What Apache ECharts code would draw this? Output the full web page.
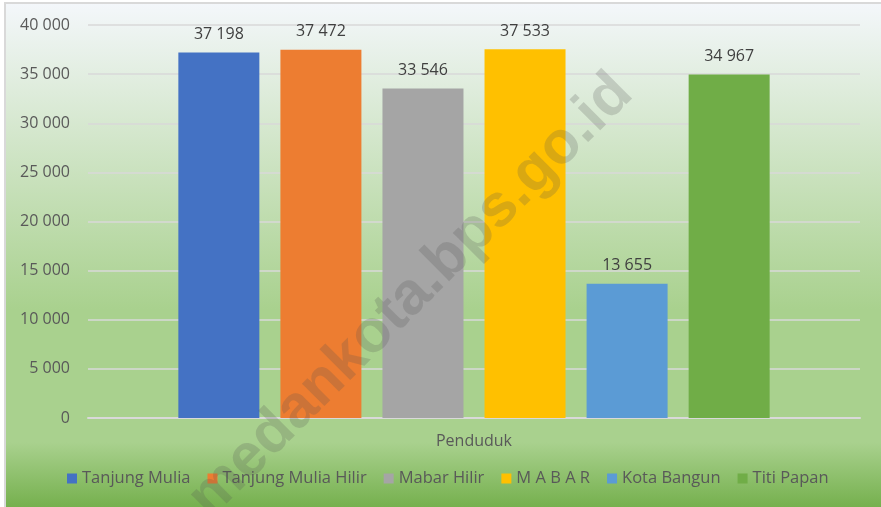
<!DOCTYPE html>
<html lang="en">
<head>
    <meta charset="UTF-8">
    <title>Penduduk</title>
    <script src="https://cdn.jsdelivr.net/npm/echarts@6/dist/echarts.min.js"></script>
    <style>
        body { margin: 0; background: #ffffff; }
        #chart { width: 881px; height: 507px; }
    </style>
</head>
<body>
    <div id="chart"></div>
    <script>
        const categories = ['Penduduk'];
        const kelurahan = ['Tanjung Mulia', 'Tanjung Mulia Hilir', 'Mabar Hilir', 'M A B A R', 'Kota Bangun', 'Titi Papan'];
        const penduduk = [37198, 37472, 33546, 37533, 13655, 34967];
        const colors = ['#4472c4', '#ed7d31', '#a5a5a5', '#ffc000', '#5b9bd5', '#70ad47'];

        const fmt = v => String(v).replace(/\B(?=(\d{3})+(?!\d))/g, ' ');
        const font = "'Open Sans', 'Noto Sans', sans-serif";

        const chart = echarts.init(document.getElementById('chart'));

        const series = kelurahan.map((name, i) => ({
            name: name,
            type: 'bar',
            data: [penduduk[i]],
            barWidth: 81,
            barGap: '26%',
            itemStyle: { color: colors[i] },
            label: {
                show: true,
                position: 'top',
                distance: 10,
                color: '#404040',
                fontSize: 16,
                fontFamily: font,
                formatter: p => fmt(p.value)
            }
        }));

        chart.setOption({
            backgroundColor: '#ffffff',
            color: colors,
            animation: false,
            graphic: [
                {
                    type: 'rect',
                    z: -10,
                    shape: { x: 5, y: 3, width: 880, height: 510 },
                    style: {
                        fill: new echarts.graphic.LinearGradient(0, 0, 0, 1, [
                            { offset: 0, color: '#f4f7fb' },
                            { offset: 0.6, color: '#a9d18e' },
                            { offset: 0.86, color: '#a9d18e' },
                            { offset: 1, color: '#70ad47' }
                        ]),
                        stroke: '#d9d9d9',
                        lineWidth: 2
                    }
                },
                {
                    // watermark
                    type: 'text',
                    z: 100,
                    x: 411,
                    y: 296,
                    rotation: Math.PI / 4,
                    style: {
                        text: 'medankota.bps.go.id',
                        font: "bold 60px 'Liberation Sans', sans-serif",
                        fill: 'rgba(80, 80, 80, 0.22)',
                        align: 'center',
                        verticalAlign: 'middle'
                    }
                }
            ],
            grid: { left: 88, right: 21, top: 25, bottom: 89, containLabel: false },
            legend: {
                bottom: 15,
                left: 62,
                itemWidth: 10,
                itemHeight: 10,
                itemGap: 17,
                icon: 'rect',
                textStyle: { color: '#595959', fontSize: 16.5, fontFamily: font },
                data: kelurahan
            },
            xAxis: {
                type: 'category',
                data: categories,
                axisLine: { lineStyle: { color: '#d9d9d9', width: 2 } },
                axisTick: { show: false },
                axisLabel: { color: '#595959', fontSize: 16, fontFamily: font, margin: 15 }
            },
            yAxis: {
                type: 'value',
                min: 0,
                max: 40000,
                interval: 5000,
                axisLine: { show: false },
                axisTick: { show: false },
                splitLine: { lineStyle: { color: '#d9d9d9', width: 1.5 } },
                axisLabel: {
                    color: '#595959',
                    fontSize: 16,
                    fontFamily: font,
                    margin: 18,
                    formatter: v => fmt(v)
                }
            },
            series: series
        });
    </script>
</body>
</html>
